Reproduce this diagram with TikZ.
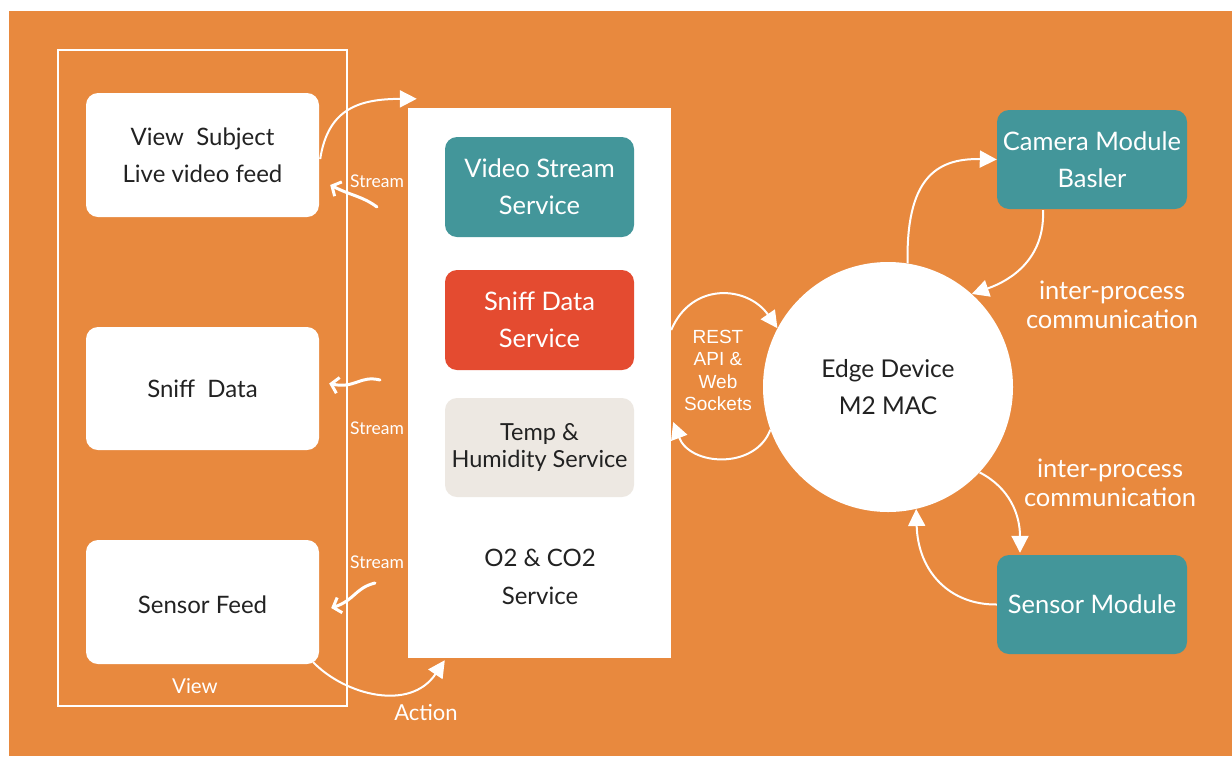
\documentclass[tikz,border=0pt]{standalone}
\usepackage{fontspec}
\setmainfont{Lato}
\newfontfamily\arialfont{Liberation Sans}
\usetikzlibrary{arrows.meta,calc}

\definecolor{bgorange}{HTML}{E8893E}
\definecolor{tealbox}{HTML}{43969A}
\definecolor{redbox}{HTML}{E44B30}
\definecolor{beigebox}{HTML}{EDE8E2}
\definecolor{inkdark}{HTML}{222222}

\tikzset{
  card/.style={fill=white, rounded corners=12pt, inner sep=0pt,
    minimum width=233pt, minimum height=124pt, align=center,
    text=inkdark, font=\fontsize{24}{37}\selectfont},
  service/.style={rounded corners=12pt, inner sep=0pt,
    minimum width=189pt, minimum height=100pt, align=center,
    font=\fontsize{25.5}{37}\selectfont},
  lighttext/.style={text=white},
  flow/.style={draw=white, line width=2pt,
    -{Triangle[length=17pt,width=17pt]}},
  squiggle/.style={draw=white, line width=3pt, line cap=round,
    -{Straight Barb[length=7pt,width=16pt,line width=3pt]}},
  smalllabel/.style={text=white, font=\fontsize{17.5}{20}\selectfont},
  ipclabel/.style={text=white, align=center, font=\fontsize{25.5}{29}\selectfont},
}

\begin{document}
\begin{tikzpicture}[x=1pt,y=-1pt]
  % page and backdrop
  \useasboundingbox (0,0) rectangle (1232,756);
  \fill[white] (0,0) rectangle (1232,756);
  \fill[bgorange] (9,11) rectangle (1232,756);

  % view column frame
  \node[draw=white, line width=2pt, minimum width=289pt, minimum height=656pt,
        inner sep=0pt] (frame) at (202.5,378) {};
  \node[text=white, font=\fontsize{20.5}{24}\selectfont] (viewlbl) at (195,686) {View};

  % view cards
  \node[card] (vs) at (202.5,155) {View\ \ Subject\\Live video feed};
  \node[card, minimum height=123pt] (sd) at (202.5,388.5) {Sniff\ \ Data};
  \node[card] (sf) at (202.5,602) {};
  \node[text=inkdark, font=\fontsize{24}{37}\selectfont] (sflbl) at (202.5,605) {Sensor Feed};

  % services panel
  \node[fill=white, inner sep=0pt, minimum width=263pt, minimum height=550pt]
        (panel) at (539.5,383) {};
  \node[service, fill=tealbox, lighttext] (vss) at (539.5,187) {Video Stream\\Service};
  \node[service, fill=redbox, lighttext] (sds) at (539.5,320) {Sniff Data\\Service};
  \node[service, fill=beigebox, text=inkdark, minimum height=99pt,
        font=\fontsize{23.5}{27}\selectfont] (ths) at (539.5,447.5) {Temp \&\\Humidity Service};
  \node[align=center, text=inkdark, font=\fontsize{24}{38}\selectfont]
        (o2) at (540,577) {O2 \& CO2\\Service};

  % edge device and modules
  \node[circle, fill=white, minimum size=250pt, inner sep=0pt, align=center,
        text=inkdark, font=\fontsize{24.5}{37}\selectfont] (edge) at (888,387)
        {Edge Device\\M2 MAC};
  \node[service, fill=tealbox, lighttext, minimum width=190pt, minimum height=99pt]
        (cam) at (1092,159.5) {Camera Module\\Basler};
  \node[service, fill=tealbox, lighttext, minimum width=190pt, minimum height=99pt]
        (sm) at (1092,604.5) {Sensor Module};

  % labels
  \node[ipclabel] (ipc1) at (1112,305) {inter-process\\communication};
  \node[ipclabel] (ipc2) at (1110,483) {inter-process\\communication};
  \node[text=white, align=center, font=\arialfont\fontsize{19}{22.3}\selectfont]
        (rest) at (718,370.5) {REST\\API \&\\Web\\Sockets};
  \node[smalllabel] (st1) at (377,181) {Stream};
  \node[smalllabel] (st2) at (377,428) {Stream};
  \node[smalllabel] (st3) at (377,562) {Stream};
  \node[text=white, font=\fontsize{22}{26}\selectfont] (act) at (426,713) {Action};

  % endpoints that sit beside the nodes
  \coordinate (vsout) at ([shift={(1,4)}]vs.east);
  \coordinate (panelin) at ([shift={(9,-9)}]panel.north west);
  \coordinate (sfout) at ([shift={(-6,-2)}]sf.south east);
  \coordinate (panelbot) at ([shift={(37,2)}]panel.south west);
  \coordinate (resttop) at ([shift={(0,-53)}]panel.east);
  \coordinate (restbot) at ([shift={(2,39)}]panel.east);
  \coordinate (s1a) at (377,207);
  \coordinate (s1b) at ([shift={(11,30)}]vs.east);
  \coordinate (s2a) at (380,380);
  \coordinate (s2b) at ([shift={(10,-5)}]sd.east);
  \coordinate (s3a) at (375,583);
  \coordinate (s3b) at ([shift={(12,6)}]sf.east);
  \coordinate (camout) at ([shift={(-49,1)}]cam.south);
  \coordinate (smin) at ([shift={(-72,-2)}]sm.north);

  % view <-> services
  \draw[flow] (vsout) .. controls (328,108) and (360,99) .. (panelin);
  \draw[flow] (sfout) .. controls (345,695) and (410,712) .. (panelbot);
  \draw[squiggle] (s1a) .. controls (362,196) and (352,196) .. (s1b);
  \draw[squiggle] (s2a) .. controls (360,375) and (355,389) .. (s2b);
  \draw[squiggle] (s3a) .. controls (355,588) and (355,600) .. (s3b);

  % services <-> edge device
  \draw[flow] (resttop) .. controls (692,281) and (748,286) .. (edge.152);
  \draw[flow] (edge.200) .. controls (755,470) and (690,466) .. (restbot);

  % edge device <-> modules
  \draw[flow] (edge.81) .. controls (906,180) and (935,158) .. (cam.west);
  \draw[flow] (camout) .. controls (1045,258) and (1012,280) .. (edge.48);
  \draw[flow] (edge.317) .. controls (1010,488) and (1020,515) .. (smin);
  \draw[flow] (sm.west) .. controls (950,605) and (918,572) .. (edge.283);
\end{tikzpicture}
\end{document}
